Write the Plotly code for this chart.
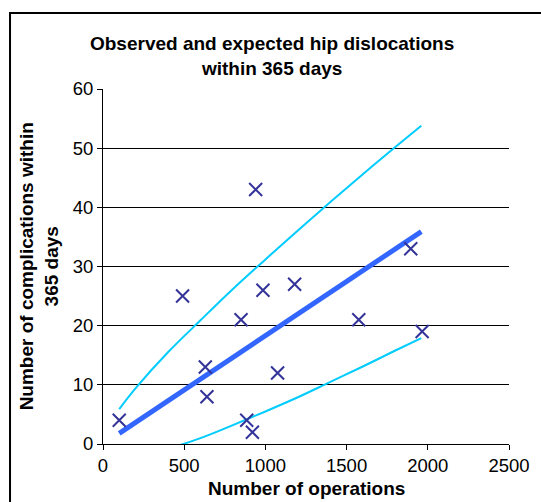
import plotly.graph_objects as go

# observed hospitals: number of operations vs dislocations within 365 days
operations = [100, 490, 630, 640, 850, 885, 920, 940, 985, 1075, 1180, 1575, 1895, 1965]
complications = [4, 25, 13, 8, 21, 4, 2, 43, 26, 12, 27, 21, 33, 19]

# expected line
exp_x = [100, 1960]
exp_y = [1.8, 35.9]

# control limits
upper_x = [100, 200, 400, 600, 800, 1000, 1200, 1400, 1600, 1800, 1960]
upper_y = [5.9, 9.4, 15.5, 20.9, 26.2, 31.2, 36.1, 40.9, 45.6, 50.2, 53.8]
lower_x = [300, 400, 600, 800, 1000, 1200, 1400, 1600, 1800, 1960]
lower_y = [-1.5, -0.8, 1.0, 3.2, 5.5, 7.9, 10.5, 13.1, 15.8, 17.9]

fig = go.Figure()
fig.add_trace(go.Scatter(x=upper_x, y=upper_y, mode='lines', line_shape='spline',
                         line=dict(color='#00CCFF', width=2), showlegend=False))
fig.add_trace(go.Scatter(x=lower_x, y=lower_y, mode='lines', line_shape='spline',
                         line=dict(color='#00CCFF', width=2), showlegend=False))
fig.add_trace(go.Scatter(x=exp_x, y=exp_y, mode='lines',
                         line=dict(color='#3366FF', width=5), showlegend=False))
fig.add_trace(go.Scatter(x=operations, y=complications, mode='markers',
                         marker=dict(symbol='x-thin', size=13,
                                     line=dict(color='#333399', width=2)),
                         showlegend=False))

font = 'Liberation Sans, Arial, sans-serif'
fig.update_layout(
    width=541, height=502,
    margin=dict(l=103, r=32, t=89, b=58),
    paper_bgcolor='white', plot_bgcolor='white',
    font=dict(family=font, size=18.5, color='black'),
    title=dict(text='<b>Observed and expected hip dislocations<br>within 365 days</b>',
               x=0.503, xanchor='center', y=0.9, yanchor='middle',
               font=dict(size=19)),
    xaxis=dict(range=[0, 2500], dtick=500, showgrid=False, zeroline=False,
               showline=True, linecolor='black', linewidth=1, automargin=False,
               ticks='outside', ticklen=5, tickcolor='black'),
    yaxis=dict(range=[0, 60], dtick=10, showgrid=True, gridcolor='black',
               gridwidth=1, zeroline=False, automargin=False,
               showline=True, linecolor='black', linewidth=1,
               ticks='outside', ticklen=5, tickcolor='black'),
)

fig.add_annotation(text='<b>Number of operations</b>', xref='paper', yref='paper',
                   x=0.5, y=-0.124, xanchor='center', yanchor='middle',
                   showarrow=False, font=dict(size=19))
fig.add_annotation(text='<b>Number of complications within<br>365 days</b>',
                   xref='paper', yref='paper', x=-0.158, y=0.5, textangle=-90,
                   xanchor='center', yanchor='middle', showarrow=False,
                   font=dict(size=19))

# outer chart border
fig.add_shape(type='rect', xref='paper', yref='paper',
              x0=-0.229, x1=1.2, y0=-0.3, y1=1.214,
              line=dict(color='black', width=2), fillcolor='rgba(0,0,0,0)',
              layer='below')

fig.write_html("out.html", config={'displayModeBar': False},
               post_script="document.body.style.margin='0';")
